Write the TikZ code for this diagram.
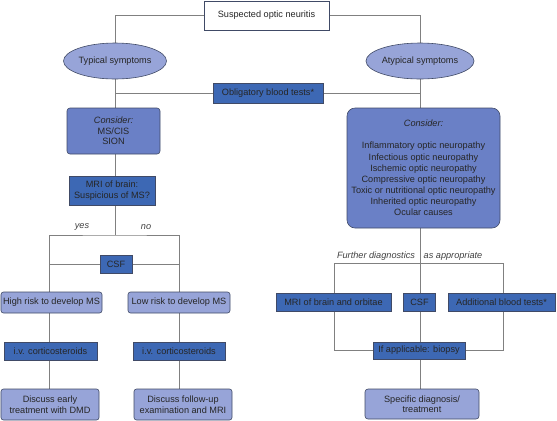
\documentclass[tikz,border=0pt]{standalone}
\usepackage{fontspec}
\setmainfont{Liberation Sans}
\usetikzlibrary{shapes.geometric, backgrounds}
\definecolor{lightblue}{HTML}{97A4D8}
\definecolor{midblue}{HTML}{6A80C6}
\definecolor{darkblue}{HTML}{3D68B4}
\definecolor{edgegray}{HTML}{404A66}
\definecolor{linegray}{HTML}{808080}
\begin{document}
\begin{tikzpicture}[x=1bp, y=-1bp,
        font=\fontsize{9.2}{10.6}\selectfont,
        every node/.style={inner sep=0pt, outer sep=0pt, align=center, text=black!85},
        plainbox/.style={draw=edgegray, fill=white, line width=0.6pt},
        oval/.style={ellipse, draw=edgegray, fill=lightblue, line width=0.6pt},
        darkbox/.style={draw=edgegray, fill=darkblue, line width=0.6pt},
        lightbox/.style={draw=edgegray, fill=lightblue, rounded corners=2.5bp, line width=0.6pt},
        midbox/.style={draw=edgegray, fill=midblue, rounded corners=3bp, line width=0.6pt},
        link/.style={draw=linegray, line width=0.8pt},
        note/.style={font=\fontsize{9.2}{10.6}\selectfont\itshape, text=black!75}]
\useasboundingbox (0,0) rectangle (557,420);

% top part
\node[plainbox, minimum width=125bp, minimum height=29bp] (susp) at (266.5,15.5) {Suspected optic neuritis};
\node[oval, minimum width=101bp, minimum height=36bp] (typ) at (115,61) {Typical symptoms};
\node[oval, minimum width=101bp, minimum height=36bp] (atyp) at (420,61) {Atypical symptoms};
\node[darkbox, minimum width=110bp, minimum height=20bp] (blood) at (268,93) {Obligatory blood tests*};

% left branch
\node[midbox, minimum width=93bp, minimum height=46bp] (consL) at (113.5,131) {\textit{Consider:}\\MS/CIS\\SION};
\node[darkbox, minimum width=86bp, minimum height=29bp] (mriL) at (112,190.5) {MRI of brain:\\Suspicious of MS?};
\node[note] (yes) at (82,227) {yes};
\node[note] (no) at (146,227) {no};
\node[darkbox, minimum width=32bp, minimum height=18bp] (csfL) at (116,264) {CSF};
\node[lightbox, minimum width=101bp, minimum height=21bp] (high) at (51.5,302.5) {High risk to develop MS};
\node[lightbox, minimum width=102bp, minimum height=21bp] (low) at (179,302.5) {Low risk to develop MS};
\node[darkbox, minimum width=93bp, minimum height=18bp] (ivL) at (50.5,351) {i.v. corticosteroids};
\node[darkbox, minimum width=92bp, minimum height=18bp] (ivR) at (179,351) {i.v. corticosteroids};
\node[lightbox, minimum width=98bp, minimum height=31bp] (discL) at (50,404.5) {Discuss early\\treatment with DMD};
\node[lightbox, minimum width=98bp, minimum height=31bp] (discR) at (183,404.5) {Discuss follow-up\\examination and MRI};

% right branch
\node[midbox, rounded corners=8bp, minimum width=153bp, minimum height=120bp, font=\fontsize{9.2}{11.2}\selectfont] (consR) at (423.5,168)
        {\textit{Consider:}\\[11.2bp]Inflammatory optic neuropathy\\Infectious optic neuropathy\\Ischemic optic neuropathy\\Compressive optic neuropathy\\Toxic or nutritional optic neuropathy\\Inherited optic neuropathy\\Ocular causes};
\node[note] (further) at (376,256) {Further diagnostics};
\node[note] (approp) at (453,256) {as appropriate};
\node[darkbox, minimum width=115bp, minimum height=18bp] (mriR) at (333.5,302) {MRI of brain and orbitae};
\node[darkbox, minimum width=32bp, minimum height=18bp] (csfR) at (419.5,302) {CSF};
\node[darkbox, minimum width=107bp, minimum height=18bp] (addl) at (501.5,302) {Additional blood tests*};
\node[darkbox, minimum width=92bp, minimum height=17bp] (biopsy) at (419,350.5) {If applicable: biopsy};
\node[lightbox, rounded corners=3bp, minimum width=114bp, minimum height=30bp] (spec) at (422,404) {Specific diagnosis/\\treatment};

% split points of the tree
\coordinate (splitL) at (115,235);
\coordinate (colL) at (49,0);
\coordinate (colR) at (179,0);
\coordinate (splitR) at (420,263);
\coordinate (colA) at (334,0);
\coordinate (colB) at (503,0);

\begin{scope}[on background layer]
\draw[link] (susp.west) -| (typ.north);
\draw[link] (susp.east) -| (atyp.north);
\draw[link] (typ.south) -- (typ.south |- consL.north);
\draw[link] (atyp.south) -- (atyp.south |- consR.north);
\draw[link] (blood.west) -- (blood.west -| typ.south);
\draw[link] (blood.east) -- (blood.east -| atyp.south);
% left tree
\draw[link] (typ.south |- consL.south) -- (typ.south |- mriL.north);
\draw[link] (typ.south |- mriL.south) -- (splitL);
\draw[link] (colL |- high.north) |- (splitL) -| (colR |- low.north);
\draw[link] (colL |- csfL) -- (csfL.west);
\draw[link] (csfL.east) -- (colR |- csfL);
\draw[link] (colL |- high.south) -- (colL |- ivL.north);
\draw[link] (colL |- ivL.south) -- (colL |- discL.north);
\draw[link] (colR |- low.south) -- (colR |- ivR.north);
\draw[link] (colR |- ivR.south) -- (colR |- discR.north);
% right tree
\draw[link] (atyp.south |- consR.south) -- (atyp.south |- biopsy.north);
\draw[link] (colA |- mriR.north) |- (splitR) -| (colB |- addl.north);
\draw[link] (colA |- mriR.south) |- (biopsy.west);
\draw[link] (colB |- addl.south) |- (biopsy.east);
\draw[link] (atyp.south |- biopsy.south) -- (atyp.south |- spec.north);
\end{scope}
\end{tikzpicture}
\end{document}
